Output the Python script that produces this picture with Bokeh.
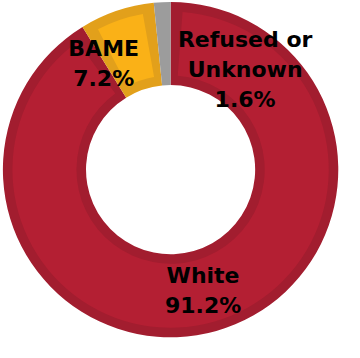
import math
from bokeh.plotting import figure
from bokeh.models import Range1d, ColumnDataSource
from bokeh.core.properties import value
from bokeh.embed import file_html
from bokeh.resources import INLINE

# ---- data ----
categories = ["White", "BAME", "Refused or\nUnknown"]
shares = [91.2, 7.2, 1.6]
pct_labels = ["91.2%", "7.2%", "1.6%"]

# ---- styles ----
light_colors = ["#B41F33", "#FAB117", "#9C9C9C"]
dark_colors = ["#A21D2F", "#E2A01B", "#9C9C9C"]

W, H = 344, 342
S = W / 360.0  # scale from the 360px reference
# label centres in reference pixels (x, y-down)
label_pos = [(212, 304), (108, 66), (256, 72)]
cx, cy = 178 * S, H - 177 * S
r_out, r_in = 175.5 * S, 88.5 * S
band = 10 * S

total = sum(shares)
starts, ends = [], []
a = math.pi / 2
for s in shares:
    starts.append(a)
    a -= s / total * 2 * math.pi
    ends.append(a)

p = figure(width=W, height=H, output_backend="svg", toolbar_location=None,
           x_range=Range1d(0, W), y_range=Range1d(0, H), min_border=0,
           background_fill_color="white", border_fill_color="white")
p.axis.visible = False
p.grid.visible = False
p.outline_line_color = None

n = len(shares)
outer = ColumnDataSource(dict(x=[cx] * n, y=[cy] * n, start=starts, end=ends, color=dark_colors))
p.annular_wedge(x="x", y="y", inner_radius=r_in, outer_radius=r_out,
                start_angle="start", end_angle="end", direction="clock",
                fill_color="color", line_color=None, source=outer)

r_mid = (r_in + r_out) / 2
inset = band / r_mid
istart, iend, icol = [], [], []
for s0, e0, c in zip(starts, ends, light_colors):
    if (s0 - e0) > 2.5 * inset:
        istart.append(s0 - inset)
        iend.append(e0 + inset)
        icol.append(c)
inner = ColumnDataSource(dict(x=[cx] * len(icol), y=[cy] * len(icol), start=istart, end=iend, color=icol))
p.annular_wedge(x="x", y="y", inner_radius=r_in + band, outer_radius=r_out - band,
                start_angle="start", end_angle="end", direction="clock",
                fill_color="color", line_color=None, source=inner)

texts = [f"{c}\n{v}" for c, v in zip(categories, pct_labels)]
lx = [pt[0] * S for pt in label_pos]
ly = [H - pt[1] * S for pt in label_pos]
p.text(x=lx, y=ly, text=texts, text_font=value("DejaVu Sans"), text_font_style="bold",
       text_font_size="22px", text_align="center", text_baseline="middle",
       text_line_height=1.2, text_color="black")

open("out.html", "w").write(file_html(p, INLINE))
